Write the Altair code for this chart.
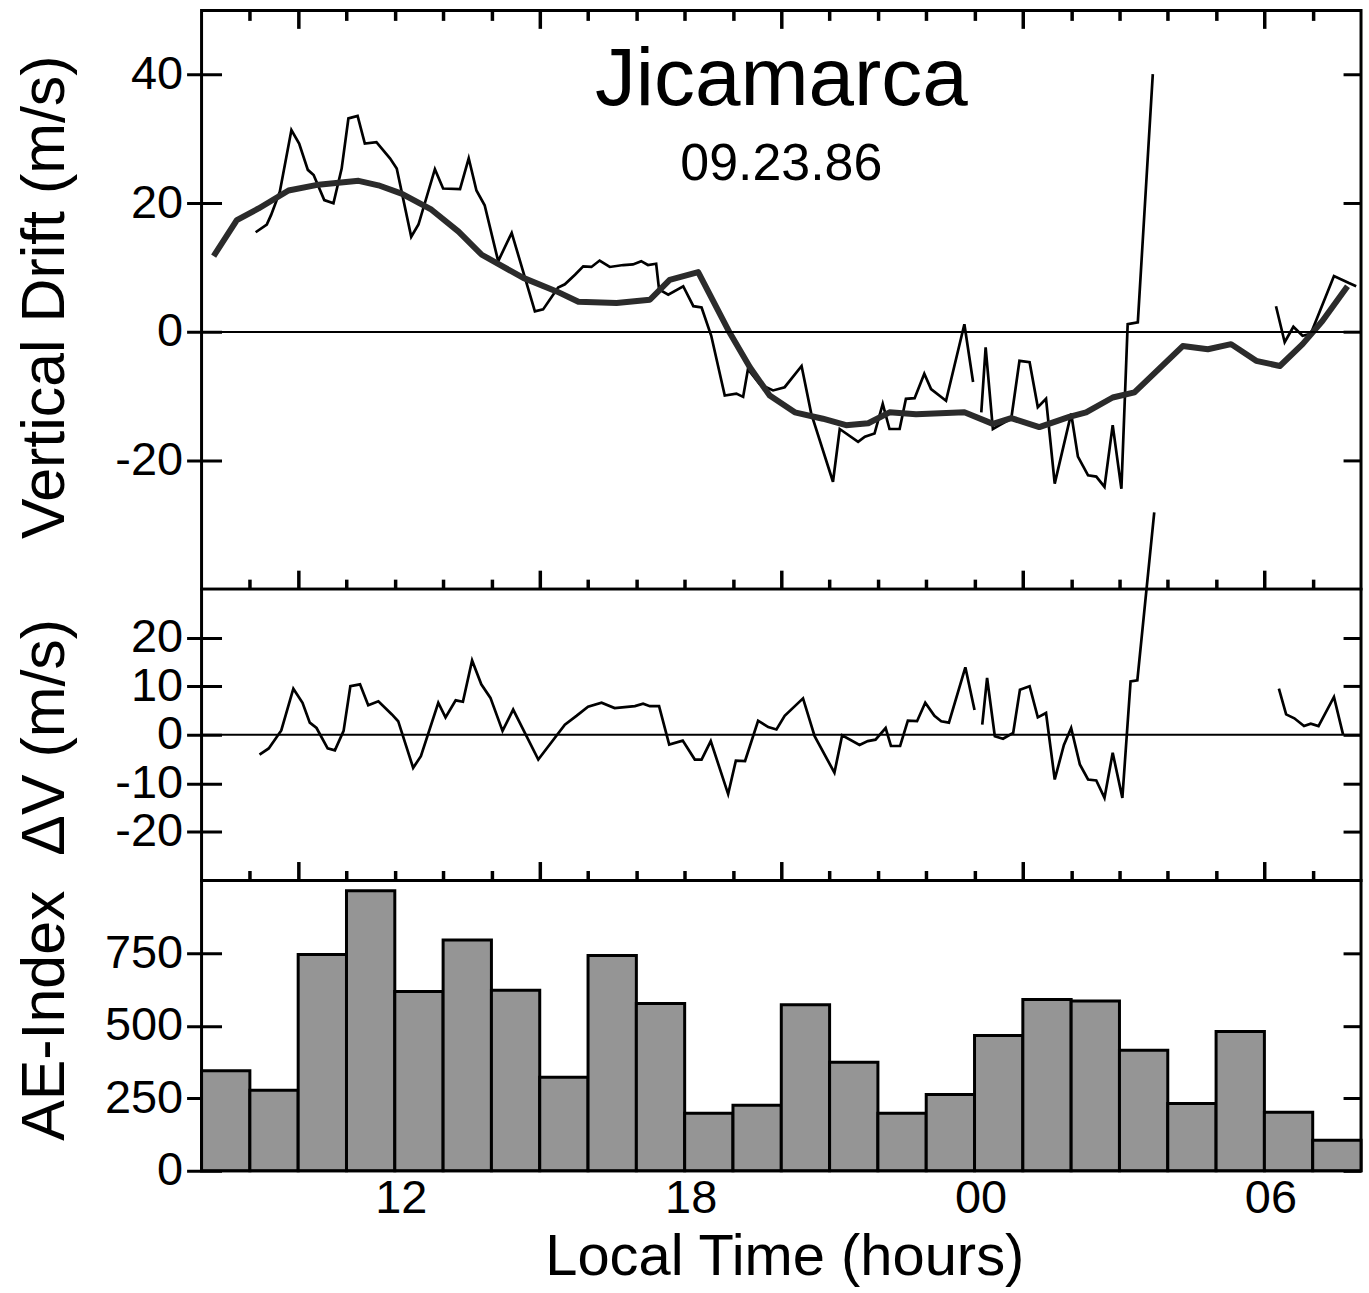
import altair as alt
import pandas as pd

FONT = "Liberation Sans"

# ---------------- data ----------------
# Vertical drift, raw (thin line); segment id breaks the line at data gaps
drift_hours = [9.12, 9.35, 9.44, 9.62, 9.86, 10.02, 10.20, 10.32, 10.54, 10.73, 10.90, 11.04, 11.23,
               11.38, 11.62, 11.90, 12.04, 12.34, 12.49, 12.83, 13.00, 13.35, 13.53, 13.69, 13.86,
               14.14, 14.42, 14.90, 15.07, 15.38, 15.52, 15.73, 15.90, 16.07, 16.24, 16.45, 16.73,
               16.93, 17.10, 17.24, 17.41, 17.47, 17.66, 17.97, 18.18, 18.35, 18.55, 18.83, 19.07,
               19.21, 19.31, 19.55, 19.83, 20.07, 20.42, 20.62, 21.07, 21.21, 21.59, 21.73, 21.93,
               22.10, 22.24, 22.45, 22.58, 22.76, 22.96, 23.10, 23.41, 23.79, 23.97,
               24.14, 24.23, 24.38, 24.52, 24.76, 24.93, 25.14, 25.31, 25.48, 25.66, 26.00, 26.14,
               26.35, 26.52, 26.69, 26.86, 27.04, 27.17, 27.38, 27.69,
               30.24, 30.42, 30.60, 30.79, 30.96, 31.44, 31.75, 31.90]
drift_values = [15.5, 16.7, 18.2, 21.8, 31.4, 29.3, 25.2, 24.4, 20.5, 20.0, 25.4, 33.2, 33.6,
                29.3, 29.5, 27.0, 25.4, 14.8, 16.7, 25.3, 22.3, 22.2, 27.0, 22.0, 19.7,
                11.0, 15.4, 3.2, 3.5, 6.9, 7.4, 8.9, 10.2, 10.1, 11.1, 10.1, 10.4,
                10.5, 11.0, 10.4, 10.6, 6.6, 5.8, 7.1, 4.0, 3.8, -0.6, -9.9, -9.6,
                -10.1, -5.8, -8.1, -9.1, -8.6, -5.3, -12.7, -23.3, -15.1, -17.1, -16.3, -15.8,
                -11.2, -15.1, -15.1, -10.4, -10.3, -6.5, -8.9, -10.7, 1.2, -7.8,
                -12.5, -2.4, -15.1, -14.5, -13.5, -4.5, -4.7, -11.7, -10.4, -23.6, -12.7, -19.4,
                -22.3, -22.5, -24.1, -14.5, -24.4, 1.2, 1.5, 40.1,
                4.0, -1.6, 0.8, -0.6, -0.3, 8.7, 7.6, 7.1]
drift_segments = [1] * 71 + [2] * 20 + [3] * 8

# Vertical drift, smoothed (thick line)
smooth_hours = [8.25, 8.73, 9.18, 9.80, 10.42, 11.25, 11.66, 12.14, 12.76, 13.32, 13.80, 14.66,
                15.35, 15.80, 16.59, 17.28, 17.69, 18.28, 18.93, 19.35, 19.76, 20.28, 20.86,
                21.34, 21.80, 22.24, 22.79, 23.79, 24.38, 24.76, 25.34, 25.96, 26.31, 26.86,
                27.31, 28.31, 28.83, 29.31, 29.83, 30.32, 30.79, 31.20, 31.72]
smooth_values = [11.8, 17.4, 19.2, 22.0, 22.9, 23.5, 22.8, 21.5, 19.0, 15.6, 12.0, 8.4,
                 6.3, 4.7, 4.5, 5.0, 8.1, 9.3, -0.1, -5.5, -9.9, -12.5, -13.5,
                 -14.5, -14.2, -12.5, -12.8, -12.5, -14.3, -13.4, -14.8, -13.2, -12.5, -10.2,
                 -9.4, -2.2, -2.7, -1.9, -4.5, -5.3, -1.9, 1.7, 7.1]

# Delta V
dv_hours = [9.20, 9.39, 9.65, 9.90, 10.09, 10.24, 10.38, 10.61, 10.76, 10.94, 11.08, 11.28,
            11.45, 11.66, 11.94, 12.07, 12.38, 12.54, 12.90, 13.05, 13.26, 13.41, 13.60, 13.79,
            13.98, 14.23, 14.45, 14.97, 15.52, 15.76, 16.00, 16.28, 16.55, 16.97, 17.14, 17.28,
            17.47, 17.68, 17.96, 18.21, 18.35, 18.54, 18.90, 19.06, 19.25, 19.52, 19.73, 19.90,
            20.07, 20.45, 20.69, 21.10, 21.26, 21.62, 21.79, 21.95, 22.16, 22.27, 22.46, 22.62,
            22.81, 22.98, 23.17, 23.31, 23.47, 23.81, 24.00,
            24.16, 24.26, 24.42, 24.59, 24.80, 24.94, 25.14, 25.31, 25.48, 25.66, 25.85, 26.00,
            26.18, 26.35, 26.52, 26.69, 26.86, 27.06, 27.23, 27.37, 27.72,
            30.30, 30.45, 30.62, 30.82, 30.96, 31.12, 31.44, 31.63]
dv_values = [-4.1, -2.8, 0.9, 9.5, 6.6, 2.5, 1.4, -2.8, -3.2, 0.8, 10.0, 10.4,
             6.1, 6.9, 4.2, 2.8, -6.8, -4.4, 6.6, 3.6, 7.1, 6.8, 15.3, 10.4,
             7.6, 0.8, 5.2, -5.1, 2.1, 3.9, 5.8, 6.6, 5.5, 5.9, 6.4, 5.9,
             5.9, -2.0, -1.2, -5.1, -5.1, -1.3, -12.2, -5.3, -5.4, 2.9, 1.6, 1.1,
             3.9, 7.5, -0.3, -7.8, -0.1, -2.1, -1.3, -1.0, 1.4, -2.3, -2.3, 2.9,
             2.8, 6.6, 3.9, 2.8, 2.5, 13.9, 5.1,
             2.1, 11.7, -0.3, -0.8, 0.4, 9.3, 10.0, 3.6, 4.5, -9.2, -2.1, 1.4,
             -6.1, -9.2, -9.4, -13.0, -3.7, -13.0, 11.0, 11.2, 45.8,
             9.5, 4.2, 3.4, 1.8, 2.3, 1.8, 7.8, 0.0]
dv_segments = [1] * 67 + [2] * 21 + [3] * 8

# AE index, hourly bars
ae_start = [8, 9, 10, 11, 12, 13, 14, 15, 16, 17, 18, 19, 20, 21, 22, 23, 24, 25, 26, 27, 28, 29, 30, 31]
ae_end = [9, 10, 11, 12, 13, 14, 15, 16, 17, 18, 19, 20, 21, 22, 23, 24, 25, 26, 27, 28, 29, 30, 31, 32]
ae_values = [345, 278, 745, 965, 618, 795, 622, 322, 742, 576, 198, 226, 572, 374, 198, 263,
             466, 590, 585, 415, 232, 480, 202, 105]

hour_ticks = [9, 10, 11, 12, 13, 14, 15, 16, 17, 18, 19, 20, 21, 22, 23, 24, 25, 26, 27, 28, 29, 30, 31]
label_hours = [12, 18, 24, 30]
drift_ticks = [-20, 0, 20, 40]
dv_ticks = [-20, -10, 0, 10, 20]
ae_ticks = [0, 250, 500, 750]

title_text = ["Jicamarca"]
date_text = ["09.23.86"]

# ---------------- layout ----------------
W = 1162
H1, H2, H3 = 580, 292, 291

xscale = alt.Scale(domain=[8, 32], nice=False, zero=False)
yscale1 = alt.Scale(domain=[-40, 50], nice=False, zero=False)
yscale2 = alt.Scale(domain=[-30, 30], nice=False, zero=False)
yscale3 = alt.Scale(domain=[0, 1000], nice=False, zero=True)


def tick_size(short, long):
    return {"condition": {"test": "datum.value % 5 === 0", "value": long}, "value": short}


def x_tick_axis(orient, offset, short, long):
    return alt.Axis(orient=orient, offset=offset, values=hour_ticks, labels=False, domain=False,
                    grid=False, title=None, ticks=True, tickSize=tick_size(short, long),
                    tickWidth=3.5, tickColor="black")


def y_left_axis(values, title, title_y):
    return alt.Axis(orient="left", offset=-20, values=values, tickSize=35, tickWidth=3,
                    tickColor="black", domain=False, grid=False, labelOverlap=False,
                    labelExpr="'' + datum.value", labelFont=FONT, labelFontSize=47,
                    labelColor="black", labelPadding=4, labelBaseline="middle",
                    title=title, titleFont=FONT, titleFontSize=61, titleFontWeight="normal",
                    titleColor="black", titleX=-158, titleY=title_y, titleAngle=270,
                    titleBaseline="alphabetic", titleAlign="center")


def y_right_axis(values):
    return alt.Axis(orient="right", offset=-18, values=values, tickSize=18, tickWidth=3,
                    tickColor="black", labels=False, domain=False, grid=False, title=None)


thin_df = pd.DataFrame({"hour": drift_hours, "drift": drift_values, "seg": drift_segments})
smooth_df = pd.DataFrame({"hour": smooth_hours, "drift": smooth_values})
dv_df = pd.DataFrame({"hour": dv_hours, "dv": dv_values, "seg": dv_segments})
ae_df = pd.DataFrame({"start": ae_start, "end": ae_end, "ae": ae_values})
line_df = pd.DataFrame({"start": [8], "end": [32], "level": [0]})
title_df = pd.DataFrame({"hour": [20], "drift": [35.3], "text": title_text})
date_df = pd.DataFrame({"hour": [20], "drift": [23.6], "text": date_text})

# ---- top panel ----
thin = alt.Chart(thin_df).mark_line(color="black", strokeWidth=2.7).encode(
    x=alt.X("hour:Q", scale=xscale, axis=x_tick_axis("bottom", -H1, 10, 18)),
    y=alt.Y("drift:Q", scale=yscale1, axis=y_left_axis(drift_ticks, "Vertical Drift (m/s)", 287)),
    detail="seg:N",
)
thick = alt.Chart(smooth_df).mark_line(color="#2b2b2b", strokeWidth=6, strokeJoin="round").encode(
    x=alt.X("hour:Q", scale=xscale, axis=x_tick_axis("bottom", 0, 10, 19)),
    y=alt.Y("drift:Q", scale=yscale1, axis=y_right_axis(drift_ticks)),
)
zero1 = alt.Chart(line_df).mark_rule(color="black", strokeWidth=2).encode(
    y=alt.Y("level:Q", scale=yscale1, axis=None),
)
t1 = alt.Chart(title_df).mark_text(font=FONT, fontSize=82, color="black", align="center",
                                   baseline="alphabetic").encode(
    x=alt.X("hour:Q", scale=xscale, axis=None),
    y=alt.Y("drift:Q", scale=yscale1, axis=None),
    text="text:N",
)
t2 = alt.Chart(date_df).mark_text(font=FONT, fontSize=52, color="black", align="center",
                                  baseline="alphabetic").encode(
    x=alt.X("hour:Q", scale=xscale, axis=None),
    y=alt.Y("drift:Q", scale=yscale1, axis=None),
    text="text:N",
)
top = alt.layer(thin, thick, zero1, t1, t2).resolve_axis(
    x="independent", y="independent").properties(width=W, height=H1)

# ---- middle panel ----
dv_line = alt.Chart(dv_df).mark_line(color="black", strokeWidth=2.7, clip=False).encode(
    x=alt.X("hour:Q", scale=xscale, axis=x_tick_axis("top", 0, 10, 19)),
    y=alt.Y("dv:Q", scale=yscale2, axis=y_left_axis(dv_ticks, "ΔV (m/s)", 148)),
    detail="seg:N",
)
zero2 = alt.Chart(line_df).mark_rule(color="black", strokeWidth=2).encode(
    x=alt.X("start:Q", scale=xscale, axis=x_tick_axis("bottom", 0, 10, 19)),
    x2="end:Q",
    y=alt.Y("level:Q", scale=yscale2, axis=y_right_axis(dv_ticks)),
)
mid = alt.layer(dv_line, zero2).resolve_axis(
    x="independent", y="independent").properties(width=W, height=H2)

# ---- bottom panel ----
bottom_axis = alt.Axis(
    orient="bottom", values=label_hours,
    labelExpr="(datum.value % 24) < 10 ? '0' + (datum.value % 24) : '' + (datum.value % 24)",
    ticks=False, tickSize=0, domain=False, grid=False, labelFont=FONT, labelFontSize=47,
    labelColor="black", labelPadding=5, labelOffset=6, labelBaseline="top", labelOverlap=False,
    title="Local Time (hours)", titleFont=FONT, titleFontSize=58, titleFontWeight="normal",
    titleColor="black", titleX=584, titleY=104, titleBaseline="alphabetic", titleAlign="center",
)
bars = alt.Chart(ae_df).mark_rect(color="#959595", stroke="black", strokeWidth=3).encode(
    x=alt.X("start:Q", scale=xscale, axis=bottom_axis),
    x2="end:Q",
    y=alt.Y("ae:Q", scale=yscale3, axis=y_left_axis(ae_ticks, "AE-Index", 135)),
    y2=alt.Y2Datum(0),
)
base3 = alt.Chart(line_df).mark_rule(color="black", strokeWidth=2).encode(
    x=alt.X("start:Q", scale=xscale, axis=x_tick_axis("top", 0, 10, 19)),
    x2="end:Q",
    y=alt.Y("level:Q", scale=yscale3, axis=y_right_axis(ae_ticks)),
)
bot = alt.layer(bars, base3).resolve_axis(
    x="independent", y="independent").properties(width=W, height=H3)

chart = alt.vconcat(top, mid, bot, spacing=0, bounds="flush").configure_view(
    stroke="black", strokeWidth=3, fill="white"
).properties(
    padding={"left": 13, "top": 5, "right": 5, "bottom": 5},
    background="white",
)

chart.save("out.html", embed_options={"renderer": "svg", "actions": False})
